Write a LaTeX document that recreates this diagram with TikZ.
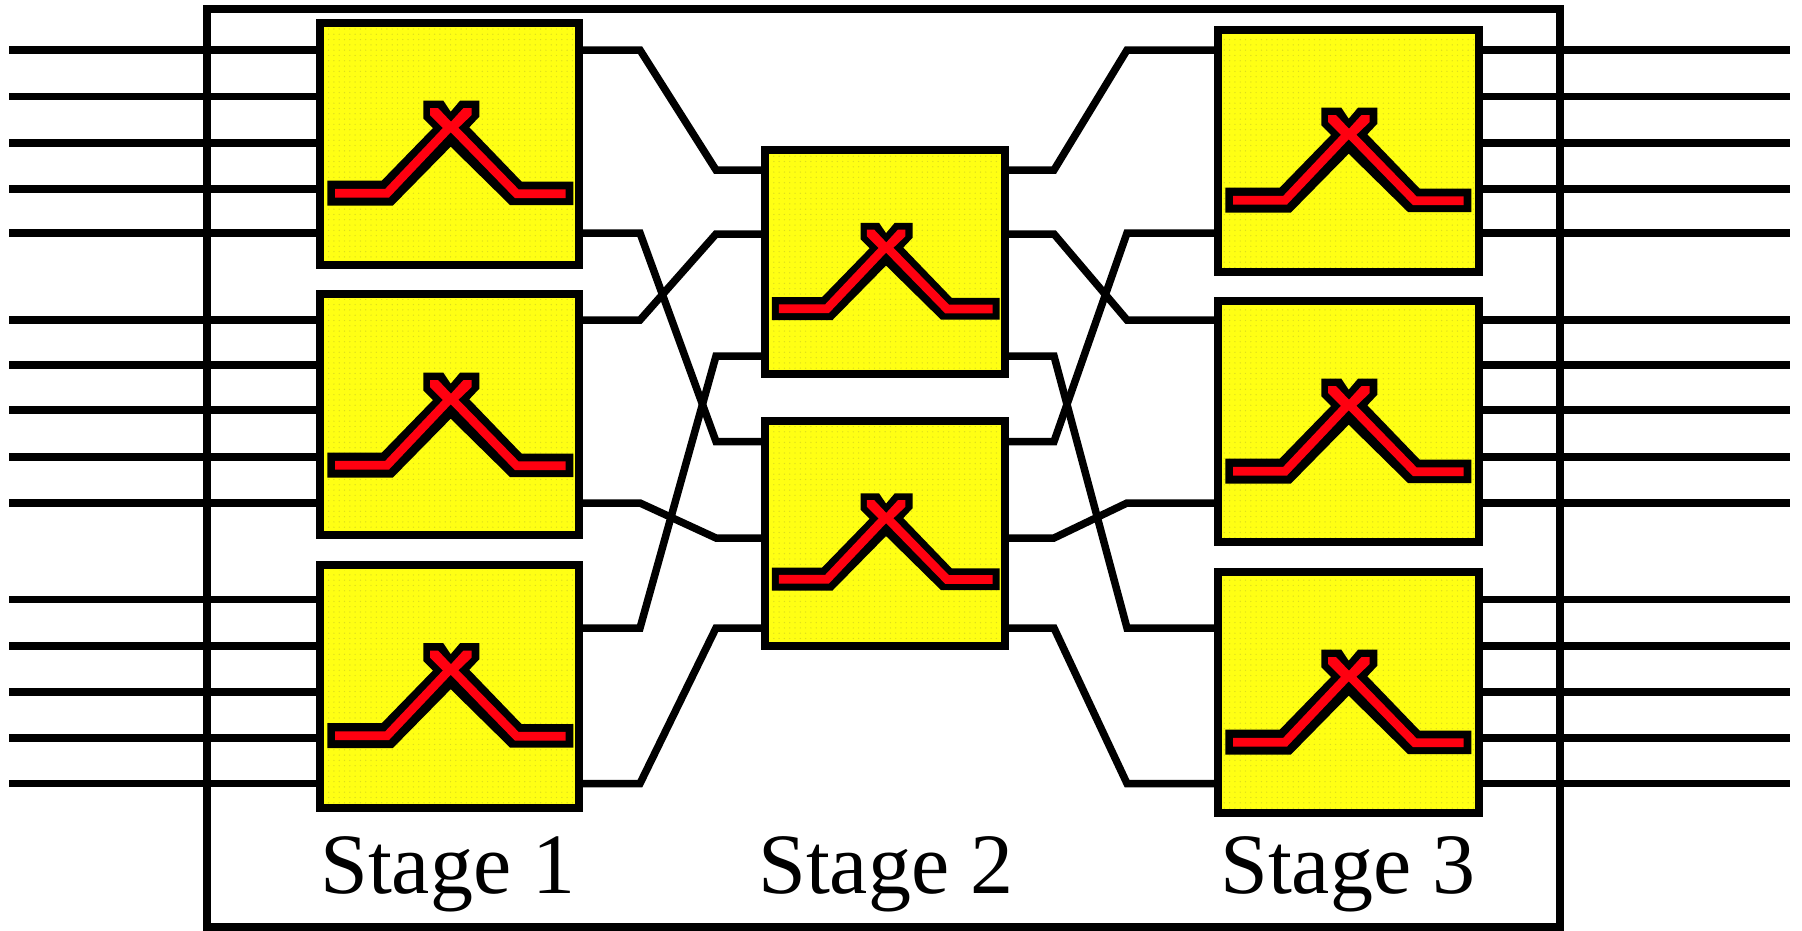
\documentclass[tikz,border=0pt]{standalone}
\usepackage{fontspec}
\setmainfont{Liberation Serif}
\usetikzlibrary{patterns.meta}
\definecolor{sw}{HTML}{FFFF14}
\definecolor{swdot}{HTML}{DCDC1E}
\definecolor{rd}{HTML}{FF0010}
\tikzset{
  wire/.style={line width=7.5pt,line join=miter,black},
  frame/.style={draw,line width=8pt,minimum width=1353pt,minimum height=918pt,inner sep=0pt,outer sep=0pt},
  swbox/.style={draw,line width=8pt,fill=sw,inner sep=0pt,outer sep=0pt,minimum width=#1},
  lab/.style={anchor=base,inner sep=0pt,font=\fontsize{86}{92}\selectfont}
}
\newcommand{\swbody}[5]{%
\fill[pattern={Dots[distance=5.3pt,radius=.7pt]},pattern color=swdot] (#4) rectangle (#5);
\begin{scope}[shift={(#1,#2)},scale=#3]
\fill[black] (7.3,157.7)--(61.7,157.7)--(113,105)--(103.3,95.3)--(103.3,77.7)--(123.3,77.7)--(130.7,88.7)--(140,77.7)--(159.3,77.7)--(159.3,93.7)--(149.3,104.3)--(201.7,158.7)--(253.3,158.7)--(253.3,182)--(190,182)--(130.7,123.7)--(72.7,182.7)--(7.3,182.7)--cycle;
\draw[rd,line width=8.7pt,line join=miter] (15,170.3)--(67,170.3)--(130.7,103);
\draw[rd,line width=8.7pt,line join=miter] (245.7,170.7)--(196.7,170.7)--(130.7,103);
\fill[rd] (110,85)--(118,85)--(135,103)--(126,108)--(110,92)--cycle;
\fill[rd] (151.7,85)--(143.5,85)--(127,103)--(135,108)--(151.7,92)--cycle;
\end{scope}}
\begin{document}
\begin{tikzpicture}[x=1pt,y=-1pt]
\useasboundingbox (0,0) rectangle (1802,930);
\fill[white] (0,0) rectangle (1802,930);
\node[frame] (outer) at (883.9,467.7) {};
% switch boxes
\node[swbox=259pt,minimum height=242pt] (a1) at (449.5,144) {};
\node[swbox=259pt,minimum height=241pt] (a2) at (449.5,414) {};
\node[swbox=259pt,minimum height=243pt] (a3) at (449.5,686) {};
\node[swbox=240pt,minimum height=224pt] (b1) at (885,262) {};
\node[swbox=240pt,minimum height=225pt] (b2) at (885,533.5) {};
\node[swbox=261pt,minimum height=242pt] (c1) at (1348.5,151) {};
\node[swbox=261pt,minimum height=241pt] (c2) at (1348.5,421.5) {};
\node[swbox=261pt,minimum height=241pt] (c3) at (1348.5,692.5) {};
% outer wires
\foreach \n/\y [count=\i] in {a1/50,a1/96.5,a1/143,a1/189,a1/233,a2/320,a2/365,a2/410,a2/457,a2/503,a3/599.5,a3/646,a3/692,a3/738,a3/783.5}{
  \coordinate (in\i) at (9,\y);
  \draw[wire] (in\i) -- (\n.west |- in\i);
}
\foreach \n/\y [count=\i] in {c1/50,c1/96.5,c1/143,c1/189,c1/233,c2/320,c2/365,c2/410,c2/457,c2/503,c3/599.5,c3/646,c3/692,c3/738,c3/783.5}{
  \coordinate (out\i) at (1790,\y);
  \draw[wire] (\n.east |- out\i) -- (out\i);
}
% first stage to second stage
\draw[wire] (a1.east |- 0,50)  -- (640,50)  -- (716,170) -- (b1.west |- 0,170);
\draw[wire] (a1.east |- 0,233) -- (640,233) -- (716,441.5) -- (b2.west |- 0,441.5);
\draw[wire] (a2.east |- 0,320) -- (640,320) -- (716,234) -- (b1.west |- 0,234);
\draw[wire] (a2.east |- 0,503) -- (640,503) -- (716,538) -- (b2.west |- 0,538);
\draw[wire] (a3.east |- 0,628) -- (640,628) -- (716,356) -- (b1.west |- 0,356);
\draw[wire] (a3.east |- 0,783.5) -- (640,783.5) -- (716,628) -- (b2.west |- 0,628);
% second stage to third stage
\draw[wire] (b1.east |- 0,170) -- (1054,170) -- (1127,50) -- (c1.west |- 0,50);
\draw[wire] (b1.east |- 0,234) -- (1054,234) -- (1127,320) -- (c2.west |- 0,320);
\draw[wire] (b1.east |- 0,356) -- (1054,356) -- (1127,628) -- (c3.west |- 0,628);
\draw[wire] (b2.east |- 0,441.5) -- (1054,441.5) -- (1127,233) -- (c1.west |- 0,233);
\draw[wire] (b2.east |- 0,538) -- (1054,538) -- (1127,503) -- (c2.west |- 0,503);
\draw[wire] (b2.east |- 0,628) -- (1054,628) -- (1127,783.5) -- (c3.west |- 0,783.5);
% switch symbols
\swbody{320}{23}{1}{325,28}{574,260}
\swbody{320}{295}{1}{325,299}{574,529}
\swbody{320}{565.5}{1}{325,570}{574,803}
\swbody{765}{151}{.926}{770,155}{1000,369}
\swbody{765}{421.5}{.926}{770,426}{1000,641}
\swbody{1218}{30}{1}{1223,35}{1474,267}
\swbody{1218}{301}{1}{1223,306}{1474,537}
\swbody{1218}{572}{1}{1223,577}{1474,808}
% labels
\node[lab] (s1) at (448,893) {Stage 1};
\node[lab] (s2) at (886,893) {Stage 2};
\node[lab] (s3) at (1348,893) {Stage 3};
\end{tikzpicture}
\end{document}
